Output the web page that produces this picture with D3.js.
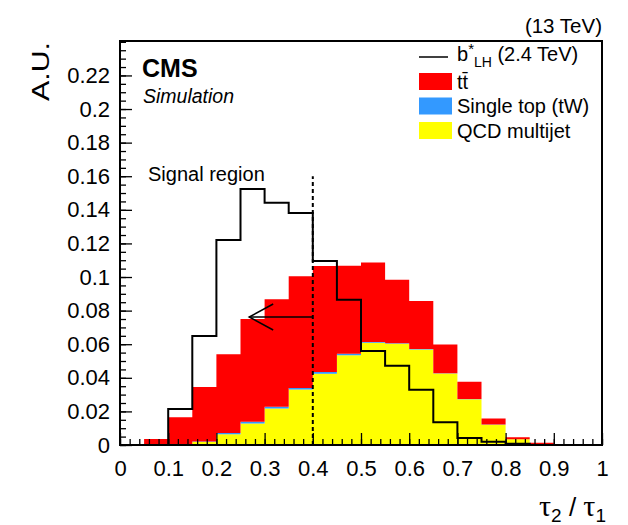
<!DOCTYPE html>
<meta charset="utf-8" />
<title>tau21 distribution</title>
<style>
  body { margin: 0; background: #fff; }
  svg { display: block; }
  text { font-family: "Liberation Sans", Arial, Helvetica, sans-serif; fill: #000; }
  .axis text { font-size: 22px; }
  .axis line { stroke: #000; stroke-width: 1.3px; }
  .axis path { display: none; }
  .leg { font-size: 20px; }
</style>
<body>
<svg width="628" height="525"></svg>
<script src="https://d3js.org/d3.v7.min.js"></script>
<script>
  // bins of width 0.05 from 0 to 1
  const binLow = [0, 0.05, 0.1, 0.15, 0.2, 0.25, 0.3, 0.35, 0.4, 0.45, 0.5, 0.55, 0.6, 0.65, 0.7, 0.75, 0.8, 0.85, 0.9, 0.95];
  const binWidth = 0.05;

  const qcd = [0, 0, 0, 0.0018, 0.0064, 0.0128, 0.0218, 0.0330, 0.0424, 0.0535, 0.0608, 0.0602, 0.0568, 0.0425, 0.0272, 0.0121, 0.0034, 0.0003, 0, 0];
  const singleTop = [0, 0, 0, 0.0003, 0.0008, 0.0010, 0.0010, 0.0010, 0.0010, 0.0008, 0.0005, 0.0004, 0.0003, 0.0002, 0.0002, 0.0001, 0, 0, 0, 0];
  const ttbar = [0, 0.0036, 0.0165, 0.0324, 0.0468, 0.0612, 0.0639, 0.0664, 0.0632, 0.0524, 0.0474, 0.0378, 0.0286, 0.0172, 0.0103, 0.0036, 0.0012, 0.0010, 0, 0];
  const signal = [0, 0, 0.0215, 0.0649, 0.1220, 0.1524, 0.1442, 0.1381, 0.1096, 0.0865, 0.0560, 0.0472, 0.0329, 0.0135, 0.0042, 0.0020, 0.0008, 0, 0, 0];

  const xTicks = [0, 0.1, 0.2, 0.3, 0.4, 0.5, 0.6, 0.7, 0.8, 0.9, 1];
  const xTickLabels = ["0", "0.1", "0.2", "0.3", "0.4", "0.5", "0.6", "0.7", "0.8", "0.9", "1"];
  const yTicks = [0, 0.02, 0.04, 0.06, 0.08, 0.1, 0.12, 0.14, 0.16, 0.18, 0.2, 0.22];
  const yTickLabels = ["0", "0.02", "0.04", "0.06", "0.08", "0.1", "0.12", "0.14", "0.16", "0.18", "0.2", "0.22"];

  // signal region cut and arrow
  const cutValue = 0.4;
  const cutTop = 0.16;
  const arrowY = 0.0762;
  const arrowTip = 0.268;

  const svg = d3.select("svg");
  const plotLeft = 120, plotRight = 602, plotTop = 41, plotBottom = 445;

  const x = d3.scaleLinear().domain([0, 1]).range([plotLeft, plotRight]);
  const y = d3.scaleLinear().domain([0, 0.2405]).range([plotBottom, plotTop]);

  // stacked backgrounds: QCD, single top, ttbar
  const table = binLow.map((b, i) => ({ lo: b, qcd: qcd[i], st: singleTop[i], tt: ttbar[i] }));
  const stack = d3.stack().keys(["qcd", "st", "tt"])(table);
  const colors = { qcd: "#ffff00", st: "#3399ff", tt: "#ff0000" };

  const area = d3.area()
    .curve(d3.curveStepAfter)
    .x(d => x(d.edge))
    .y0(d => y(d.v0))
    .y1(d => y(d.v1));

  stack.forEach(layer => {
    const pts = layer.map((d, i) => ({ edge: binLow[i], v0: d[0], v1: d[1] }));
    const last = layer[layer.length - 1];
    pts.push({ edge: binLow[binLow.length - 1] + binWidth, v0: last[0], v1: last[1] });
    svg.append("path")
      .attr("d", area(pts))
      .attr("fill", colors[layer.key]);
  });

  // signal histogram
  const sigPts = binLow.map((b, i) => ({ edge: b, v: signal[i] }));
  sigPts.push({ edge: 1, v: signal[signal.length - 1] });
  svg.append("path")
    .attr("d", d3.line().curve(d3.curveStepAfter).x(d => x(d.edge)).y(d => y(d.v))(sigPts))
    .attr("fill", "none")
    .attr("stroke", "#000")
    .attr("stroke-width", 2);

  // axes, ticks point inwards
  svg.append("g").attr("class", "axis")
    .attr("transform", `translate(0,${plotBottom})`)
    .call(d3.axisBottom(x).ticks(50).tickSize(-6).tickFormat(""));
  svg.append("g").attr("class", "axis")
    .attr("transform", `translate(0,${plotBottom})`)
    .call(d3.axisBottom(x).tickValues(xTicks).tickSize(-12).tickPadding(15)
      .tickFormat((d, i) => xTickLabels[i]));

  svg.append("g").attr("class", "axis")
    .attr("transform", `translate(${plotLeft},0)`)
    .call(d3.axisLeft(y).tickValues(d3.range(0, 0.2401, 0.005)).tickSize(-6).tickFormat(""));
  svg.append("g").attr("class", "axis")
    .attr("transform", `translate(${plotLeft},0)`)
    .call(d3.axisLeft(y).tickValues(yTicks).tickSize(-12).tickPadding(10)
      .tickFormat((d, i) => yTickLabels[i]));

  // frame
  svg.append("rect")
    .attr("x", plotLeft).attr("y", plotTop)
    .attr("width", plotRight - plotLeft).attr("height", plotBottom - plotTop)
    .attr("fill", "none").attr("stroke", "#000").attr("stroke-width", 2);

  // cut line and arrow
  svg.append("line")
    .attr("x1", x(cutValue)).attr("x2", x(cutValue))
    .attr("y1", y(0)).attr("y2", y(cutTop))
    .attr("stroke", "#000").attr("stroke-width", 2).attr("stroke-dasharray", "4,3");

  svg.append("line")
    .attr("x1", x(cutValue)).attr("x2", x(arrowTip))
    .attr("y1", y(arrowY)).attr("y2", y(arrowY))
    .attr("stroke", "#000").attr("stroke-width", 1.5);
  svg.append("path")
    .attr("d", `M${x(arrowTip) + 24},${y(arrowY) - 13}L${x(arrowTip)},${y(arrowY)}L${x(arrowTip) + 24},${y(arrowY) + 13}`)
    .attr("fill", "none").attr("stroke", "#000").attr("stroke-width", 1.5);

  svg.append("text")
    .attr("x", 148).attr("y", 181)
    .style("font-size", "20px")
    .text("Signal region");

  // CMS labels
  svg.append("text")
    .attr("x", 142).attr("y", 77)
    .style("font-size", "25px").style("font-weight", "bold")
    .text("CMS");
  svg.append("text")
    .attr("x", 143).attr("y", 103)
    .style("font-size", "19.5px").style("font-style", "italic")
    .text("Simulation");
  svg.append("text")
    .attr("x", plotRight).attr("y", 33)
    .attr("text-anchor", "end")
    .style("font-size", "20.5px")
    .text("(13 TeV)");

  // axis titles (the y title is stretched along its length like in the original)
  svg.append("text")
    .attr("transform", "translate(48.5,42) rotate(-90) scale(1.32,1)")
    .attr("text-anchor", "end")
    .style("font-size", "23px")
    .text("A.U.");

  const xt = svg.append("text")
    .attr("x", 606).attr("y", 516)
    .attr("text-anchor", "end")
    .style("font-size", "30px");
  xt.append("tspan").style("font-family", "'Liberation Serif', serif").text("τ");
  xt.append("tspan").attr("dy", 6).style("font-size", "19px").text("2");
  xt.append("tspan").attr("dy", -6).style("font-size", "26px").text(" / ");
  xt.append("tspan").style("font-family", "'Liberation Serif', serif").text("τ");
  xt.append("tspan").attr("dy", 6).style("font-size", "19px").text("1");

  // legend
  const legX = 419, legY = 57, legStep = 24.5;
  svg.append("line")
    .attr("x1", legX).attr("x2", legX + 29)
    .attr("y1", legY).attr("y2", legY)
    .attr("stroke", "#000").attr("stroke-width", 1.5);
  const sigLabel = svg.append("text").attr("class", "leg")
    .attr("x", legX + 38).attr("y", legY + 4);
  sigLabel.append("tspan").text("b");
  sigLabel.append("tspan").attr("dy", -7).style("font-size", "15px").text("*");
  sigLabel.append("tspan").attr("dy", 13).style("font-size", "14px").text("LH");
  sigLabel.append("tspan").attr("dy", -6).text(" (2.4 TeV)");

  const legItems = [
    { key: "tt", label: "t\u0074\u0304" },
    { key: "st", label: "Single top (tW)" },
    { key: "qcd", label: "QCD multijet" }
  ];
  legItems.forEach((d, i) => {
    const cy = legY + legStep * (i + 1);
    svg.append("rect")
      .attr("x", legX).attr("y", cy - 8.5)
      .attr("width", 33).attr("height", 17)
      .attr("fill", colors[d.key]);
    svg.append("text").attr("class", "leg")
      .attr("x", legX + 38).attr("y", cy + 7)
      .text(d.label);
  });
</script>
</body>
